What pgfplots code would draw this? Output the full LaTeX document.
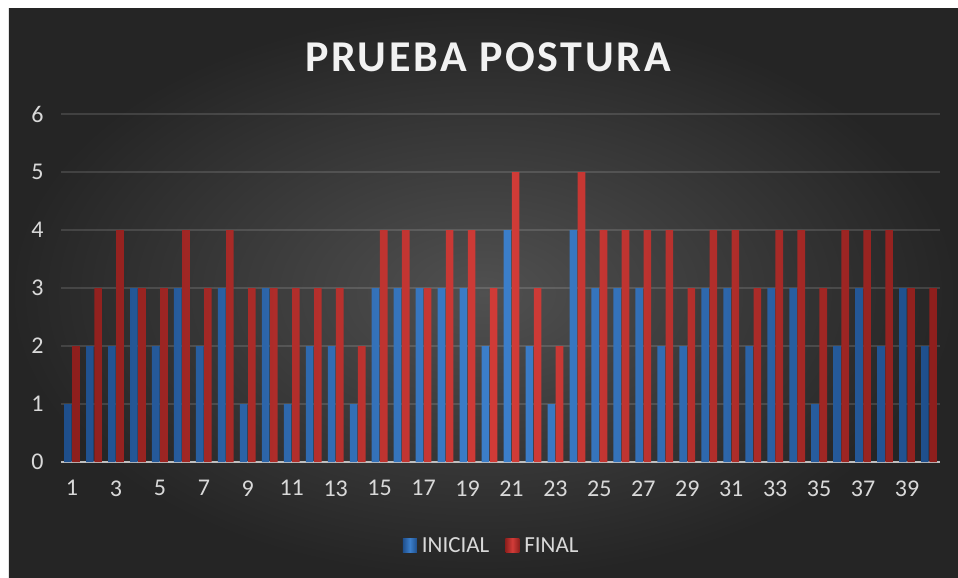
\documentclass[border=0pt]{standalone}
\usepackage{fontspec}
\setmainfont{Carlito}
\usepackage{pgfplots}
\pgfplotsset{compat=1.18}

\definecolor{bgIn}{HTML}{505050}
\definecolor{bgOut}{HTML}{252525}
\definecolor{txt}{HTML}{D9D9D9}
\definecolor{axln}{HTML}{BFBFBF}
\definecolor{blueL}{HTML}{3C7FCB}
\definecolor{blueD}{HTML}{1F4F8C}
\definecolor{redL}{HTML}{D23C38}
\definecolor{redD}{HTML}{8E1F1D}

\begin{document}
\begin{tikzpicture}
% page background (white strip left and top, dark radial panel)
\fill[white] (-61pt,-116pt) rectangle (897pt,462pt);
\shade[inner color=bgIn,outer color=bgOut] (-52pt,-116pt) rectangle (897pt,453pt);

\begin{axis}[at={(0,0)},anchor=south west,scale only axis,
 width=879pt,height=348pt,
 xmin=0.5,xmax=40.5,ymin=0,ymax=6,
 xtick={1,3,...,39},ytick={0,1,...,6},
 ybar=0.6pt,bar width=7.6pt,
 axis lines*=left,separate axis lines,
 y axis line style={draw=none},
 x axis line style={draw=axln,line width=2.6pt},
 major tick length=0pt,
 ymajorgrids,grid style={draw=white,opacity=0.13,line width=1.6pt},
 /pgf/number format/assume math mode=true,
 tick label style={font=\fontsize{24}{24}\selectfont,text=txt},
 xticklabel style={yshift=-15pt},
 yticklabel style={xshift=-14pt},
 legend columns=2,
 legend style={at={(0.49,-0.241)},anchor=center,draw=none,fill=none,
  font=\fontsize{23}{23}\selectfont,text=txt,
  /tikz/every odd column/.append style={column sep=3pt},
  /tikz/every even column/.append style={column sep=14pt}},
 legend image code/.code={\fill[#1] (0pt,-7pt) rectangle (14pt,7pt);},
]
\addplot[draw=none,left color=blueD,right color=blueD,middle color=blueL] coordinates {
(1,1)(2,2)(3,2)(4,3)(5,2)(6,3)(7,2)(8,3)(9,1)(10,3)
(11,1)(12,2)(13,2)(14,1)(15,3)(16,3)(17,3)(18,3)(19,3)(20,2)
(21,4)(22,2)(23,1)(24,4)(25,3)(26,3)(27,3)(28,2)(29,2)(30,3)
(31,3)(32,2)(33,3)(34,3)(35,1)(36,2)(37,3)(38,2)(39,3)(40,2)};
\addplot[draw=none,left color=redD,right color=redD,middle color=redL] coordinates {
(1,2)(2,3)(3,4)(4,3)(5,3)(6,4)(7,3)(8,4)(9,3)(10,3)
(11,3)(12,3)(13,3)(14,2)(15,4)(16,4)(17,3)(18,4)(19,4)(20,3)
(21,5)(22,3)(23,2)(24,5)(25,4)(26,4)(27,4)(28,4)(29,3)(30,4)
(31,4)(32,3)(33,4)(34,4)(35,3)(36,4)(37,4)(38,4)(39,3)(40,3)};
\legend{INICIAL,FINAL}
\end{axis}

% chart title
\node[text=white!95!black,font=\fontsize{44}{44}\selectfont\bfseries\addfontfeature{LetterSpace=6}] at (427pt,405pt) {PRUEBA POSTURA};
\end{tikzpicture}
\end{document}
